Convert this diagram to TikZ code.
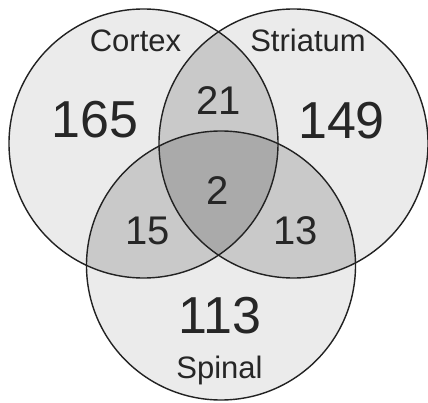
\documentclass[tikz,border=0pt]{standalone}
\usepackage{fontspec}
\setmainfont{Liberation Sans}
\definecolor{single}{HTML}{EBEBEB}
\definecolor{pair}{HTML}{C9C9C9}
\definecolor{triple}{HTML}{AAAAAA}
\definecolor{edge}{HTML}{222222}
\definecolor{ink}{HTML}{262626}
\tikzset{
  setring/.style={circle, draw=edge, line width=1.4pt, minimum size=269pt, inner sep=0pt},
  setname/.style={anchor=base, text=ink, font=\fontsize{31}{36}\selectfont},
  bigcount/.style={anchor=base, text=ink, font=\fontsize{52}{60}\selectfont},
  smallcount/.style={anchor=base, text=ink, font=\fontsize{40}{46}\selectfont},
}
\begin{document}
\begin{tikzpicture}[x=1pt, y=-1pt]
\useasboundingbox (0,0) rectangle (428,403);
\fill[white] (0,0) rectangle (428,403);
% circle centres and common radius
\coordinate (cc) at (143.5,143.5);
\coordinate (sc) at (293.5,143.5);
\coordinate (pc) at (221,265.5);
\def\rad{134.5}
% single-set areas
\fill[single] (cc) circle (\rad) (sc) circle (\rad) (pc) circle (\rad);
% pairwise overlaps
\begin{scope}
  \clip (cc) circle (\rad);
  \fill[pair] (sc) circle (\rad) (pc) circle (\rad);
\end{scope}
\begin{scope}
  \clip (sc) circle (\rad);
  \fill[pair] (pc) circle (\rad);
\end{scope}
% triple overlap
\begin{scope}
  \clip (cc) circle (\rad);
  \clip (sc) circle (\rad);
  \fill[triple] (pc) circle (\rad);
\end{scope}
% outlines
\node[setring] (cortex) at (cc) {};
\node[setring] (striatum) at (sc) {};
\node[setring] (spinal) at (pc) {};
% set names
\node[setname] (lcortex) at (135.5,52) {Cortex};
\node[setname] (lstriatum) at (308,52) {Striatum};
\node[setname] (lspinal) at (219.5,378) {Spinal};
% counts
\node[bigcount] (n165) at (95,138) {165};
\node[bigcount] (n149) at (341.5,139) {149};
\node[bigcount] (n113) at (220,333) {113};
\node[smallcount] (n21) at (218.5,115) {21};
\node[smallcount] (n2) at (218,205) {2};
\node[smallcount] (n15) at (147.5,245) {15};
\node[smallcount] (n13) at (295.5,245) {13};
\end{tikzpicture}
\end{document}
